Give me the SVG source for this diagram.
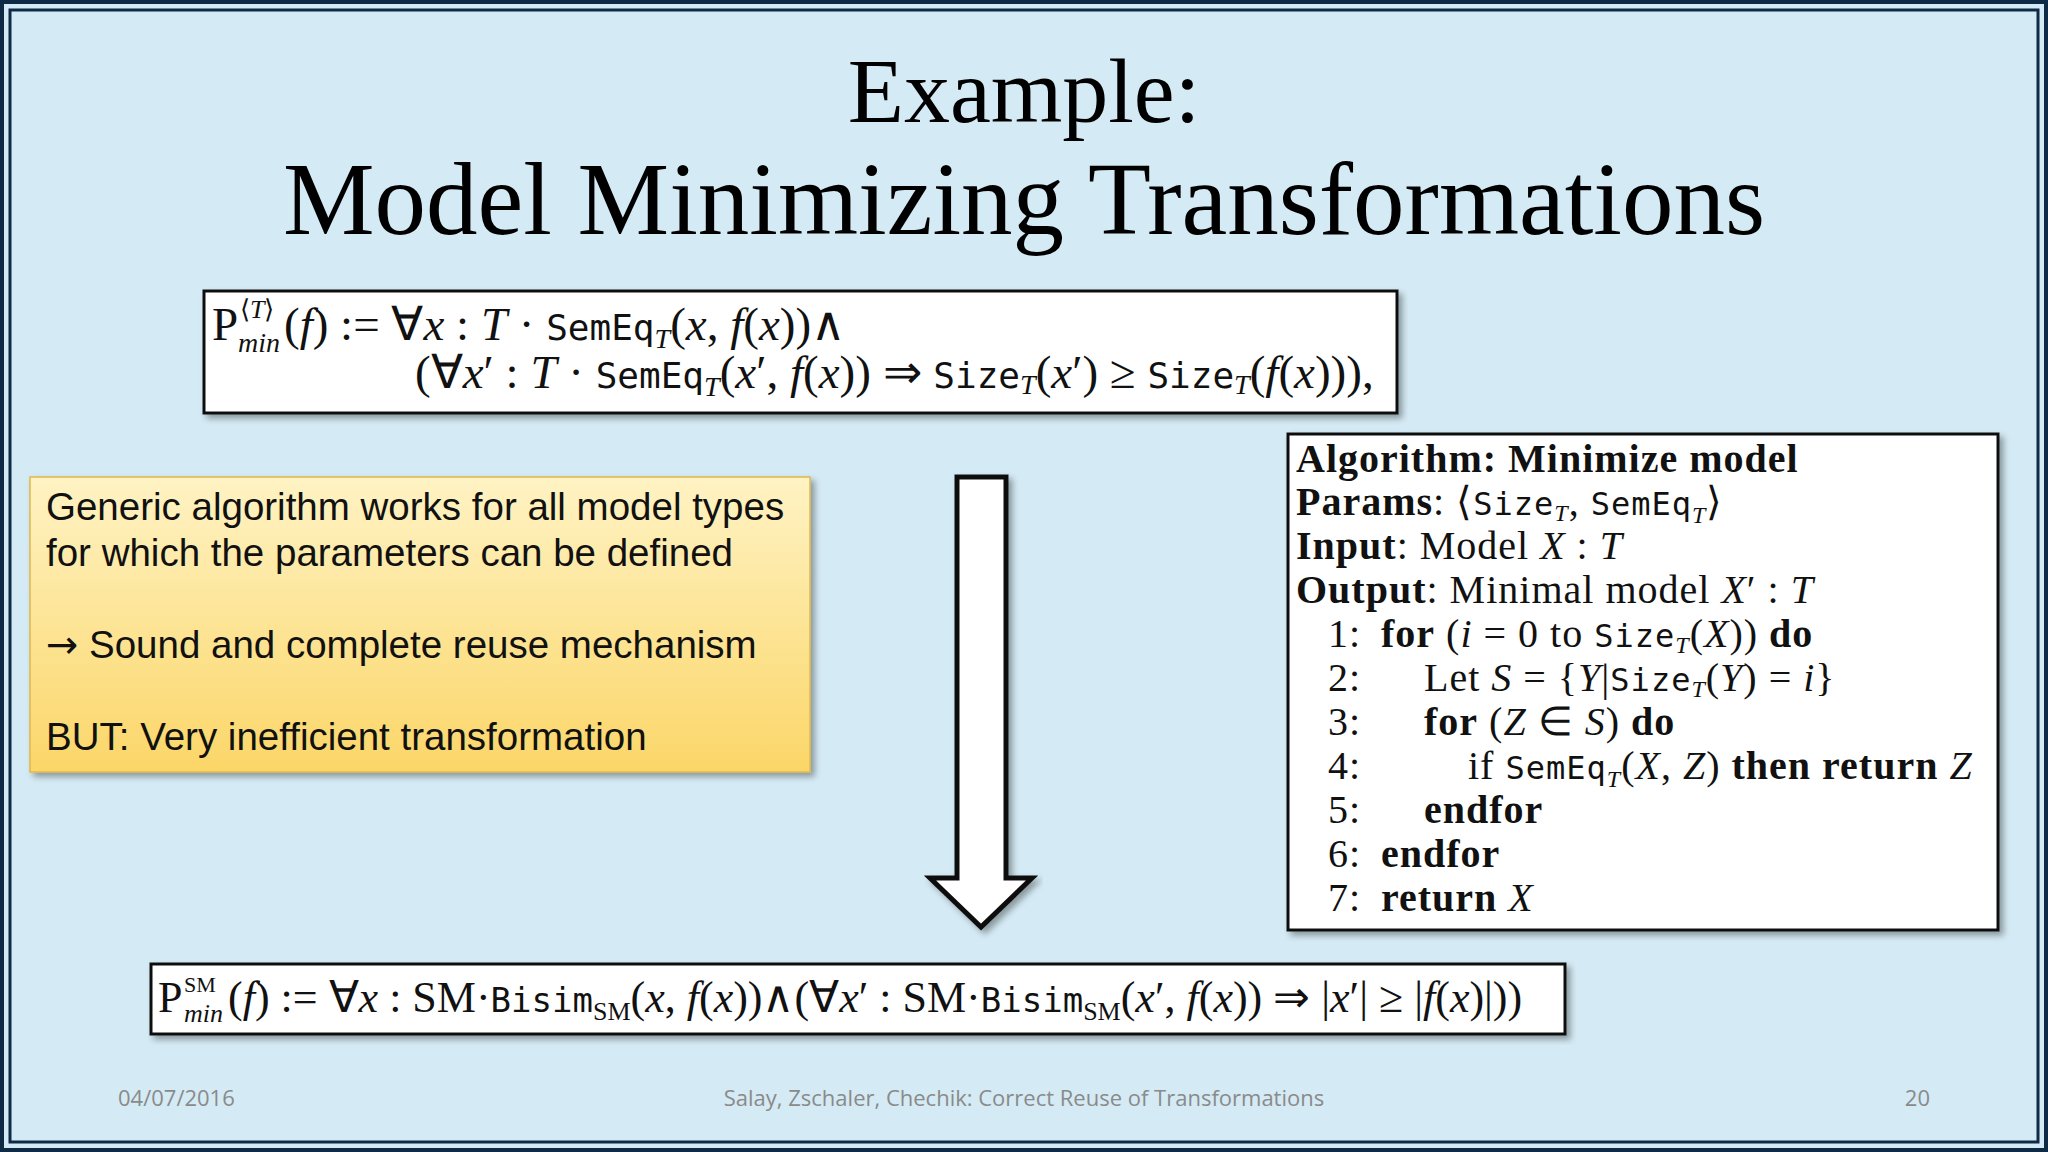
<svg xmlns="http://www.w3.org/2000/svg" width="2048" height="1152" viewBox="0 0 2048 1152">
<defs>
<linearGradient id="yg" x1="0" y1="0" x2="0" y2="1"><stop offset="0" stop-color="#fff3c4"/><stop offset="1" stop-color="#fbd668"/></linearGradient>
<filter id="sh" x="-5%" y="-5%" width="115%" height="120%"><feDropShadow dx="4" dy="4" stdDeviation="3" flood-opacity="0.35"/></filter>
</defs>
<style>
.m{font-family:"Liberation Serif",serif;font-size:47px;fill:#111}
.a{font-family:"Liberation Serif",serif;font-size:40px;fill:#111;letter-spacing:1px}
.i{font-style:italic}
.tt{font-family:"DejaVu Sans Mono","Liberation Mono",monospace;font-size:36px}
.b{font-weight:bold}
.s{font-family:"Liberation Sans",Arial,sans-serif;font-size:38.5px;fill:#111}
.f{font-family:"Open Sans","Liberation Sans",sans-serif;font-size:22px;fill:#8a8a8a}
.box{fill:#fff;stroke:#111;stroke-width:3}
</style>
<rect width="2048" height="1152" fill="#0f2a44"/>
<rect x="4" y="4" width="2040" height="1144" fill="#d4eaf4"/>
<rect x="10" y="10" width="2028" height="1132" fill="none" stroke="#0f2a44" stroke-width="3"/>
<g id="title" font-family="Liberation Serif,serif" font-size="92" fill="#000" text-anchor="middle">
<text x="1024" y="122">Example:</text>
<text x="1024" y="234" font-size="103">Model Minimizing Transformations</text>
</g>
<g id="formula1">
<rect class="box" x="204" y="291" width="1193" height="122" filter="url(#sh)"/>
<text class="m" x="212" y="340">P</text>
<text class="m" x="240" y="318" style="font-size:26px">⟨<tspan class="i">T</tspan>⟩</text>
<text class="m i" x="238" y="352" style="font-size:28px">min</text>
<text class="m" x="284" y="340">(<tspan class="i">f</tspan>) := ∀<tspan class="i">x</tspan> : <tspan class="i">T</tspan> · <tspan class="tt">SemEq</tspan><tspan class="i" font-size="28" dy="8">T</tspan><tspan dy="-8">(<tspan class="i">x</tspan>, <tspan class="i">f</tspan>(<tspan class="i">x</tspan>))∧</tspan></text>
<text class="m" x="415" y="388">(∀<tspan class="i">x</tspan>′ : <tspan class="i">T</tspan> · <tspan class="tt">SemEq</tspan><tspan class="i" font-size="28" dy="8">T</tspan><tspan dy="-8">(<tspan class="i">x</tspan>′, <tspan class="i">f</tspan>(<tspan class="i">x</tspan>)) ⇒ <tspan class="tt">Size</tspan><tspan class="i" font-size="28" dy="6">T</tspan><tspan dy="-6">(<tspan class="i">x</tspan>′) ≥ <tspan class="tt">Size</tspan><tspan class="i" font-size="28" dy="6">T</tspan><tspan dy="-6">(<tspan class="i">f</tspan>(<tspan class="i">x</tspan>))),</tspan></tspan></tspan></text>
</g>
<g id="note">
<rect x="30" y="477" width="780" height="295" fill="url(#yg)" stroke="#e0b84a" stroke-width="1.5" filter="url(#sh)"/>
<text class="s" x="46" y="520">Generic algorithm works for all model types</text>
<text class="s" x="46" y="566">for which the parameters can be defined</text>
<text class="s" x="46" y="658"><tspan font-family="DejaVu Sans,sans-serif">→</tspan> Sound and complete reuse mechanism</text>
<text class="s" x="46" y="750">BUT: Very inefficient transformation</text>
</g>
<g id="arrow">
<polygon points="957,477 1006,477 1006,878 1032,878 981,927 930,878 957,878" fill="#fff" stroke="#111" stroke-width="5" filter="url(#sh)"/>
</g>
<g id="algorithm">
<rect class="box" x="1288" y="434" width="710" height="496" filter="url(#sh)"/>
<g class="a">
<text x="1296" y="472"><tspan class="b">Algorithm: Minimize model</tspan></text>
<text x="1296" y="515"><tspan class="b">Params</tspan>: ⟨<tspan class="tt" style="font-size:32px">Size</tspan><tspan class="i" font-size="24" dy="6">T</tspan><tspan dy="-6">, <tspan class="tt" style="font-size:32px">SemEq</tspan><tspan class="i" font-size="24" dy="8">T</tspan><tspan dy="-8">⟩</tspan></tspan></text>
<text x="1296" y="559"><tspan class="b">Input</tspan>: Model <tspan class="i">X</tspan> : <tspan class="i">T</tspan></text>
<text x="1296" y="603"><tspan class="b">Output</tspan>: Minimal model <tspan class="i">X</tspan>′ : <tspan class="i">T</tspan></text>
<text x="1328" y="647">1:</text><text x="1381" y="647"><tspan class="b">for</tspan> (<tspan class="i">i</tspan> = 0 to <tspan class="tt" style="font-size:32px">Size</tspan><tspan class="i" font-size="24" dy="6">T</tspan><tspan dy="-6">(<tspan class="i">X</tspan>)) <tspan class="b">do</tspan></tspan></text>
<text x="1328" y="691">2:</text><text x="1424" y="691">Let <tspan class="i">S</tspan> = {<tspan class="i">Y</tspan>|<tspan class="tt" style="font-size:32px">Size</tspan><tspan class="i" font-size="24" dy="6">T</tspan><tspan dy="-6">(<tspan class="i">Y</tspan>) = <tspan class="i">i</tspan>}</tspan></text>
<text x="1328" y="735">3:</text><text x="1424" y="735"><tspan class="b">for</tspan> (<tspan class="i">Z</tspan> ∈ <tspan class="i">S</tspan>) <tspan class="b">do</tspan></text>
<text x="1328" y="779">4:</text><text x="1468" y="779">if <tspan class="tt" style="font-size:32px">SemEq</tspan><tspan class="i" font-size="24" dy="8">T</tspan><tspan dy="-8">(<tspan class="i">X</tspan>, <tspan class="i">Z</tspan>) <tspan class="b">then return</tspan> <tspan class="i">Z</tspan></tspan></text>
<text x="1328" y="823">5:</text><text x="1424" y="823"><tspan class="b">endfor</tspan></text>
<text x="1328" y="867">6:</text><text x="1381" y="867"><tspan class="b">endfor</tspan></text>
<text x="1328" y="911">7:</text><text x="1381" y="911"><tspan class="b">return</tspan> <tspan class="i">X</tspan></text>
</g>
</g>
<g id="formula2">
<rect class="box" x="151" y="964" width="1414" height="70" filter="url(#sh)"/>
<text class="m" x="158" y="1012" style="font-size:44px">P</text>
<text class="m" x="184" y="992" style="font-size:22px">SM</text>
<text class="m i" x="184" y="1022" style="font-size:26px">min</text>
<text class="m" x="228" y="1012" style="font-size:44px">(<tspan class="i">f</tspan>) := ∀<tspan class="i">x</tspan> : SM·<tspan class="tt" style="font-size:34px">Bisim</tspan><tspan font-size="26" dy="8">SM</tspan><tspan dy="-8">(<tspan class="i">x</tspan>, <tspan class="i">f</tspan>(<tspan class="i">x</tspan>))∧(∀<tspan class="i">x</tspan>′ : SM·<tspan class="tt" style="font-size:34px">Bisim</tspan><tspan font-size="26" dy="8">SM</tspan><tspan dy="-8">(<tspan class="i">x</tspan>′, <tspan class="i">f</tspan>(<tspan class="i">x</tspan>)) ⇒ |<tspan class="i">x</tspan>′| ≥ |<tspan class="i">f</tspan>(<tspan class="i">x</tspan>)|))</tspan></tspan></text>
</g>
<g id="footer">
<text class="f" x="118" y="1106">04/07/2016</text>
<text class="f" x="1024" y="1106" text-anchor="middle">Salay, Zschaler, Chechik: Correct Reuse of Transformations</text>
<text class="f" x="1930" y="1106" text-anchor="end">20</text>
</g>
</svg>
